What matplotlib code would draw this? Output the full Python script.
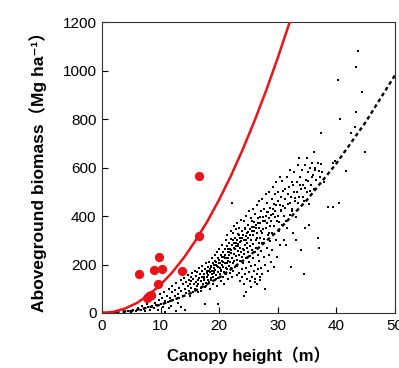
import matplotlib
matplotlib.use("Agg")
import matplotlib.pyplot as plt

# Red fitted curve
red_curve_x = [0, 2, 4, 6, 8, 10, 12, 14, 16, 18, 20, 22, 24, 26, 28, 30, 32]
red_curve_y = [0, 5, 19, 42, 75, 117, 168, 229, 300, 379, 468, 566, 674, 791, 917, 1053, 1198]

# Black dashed fitted curve
black_curve_x = [0, 5, 10, 15, 20, 25, 30, 35, 40, 45, 50]
black_curve_y = [0, 8, 34, 80, 146, 232, 339, 467, 617, 788, 981]

# Red points
red_x = [16.5, 16.5, 6.3, 9.8, 8.9, 10.2, 13.7, 9.5, 7.7, 8.3, 8.0]
red_y = [564, 319, 161, 232, 177, 180, 173, 118, 60, 74, 68]

# Black scatter points
black_pts = [
    (2.3,3),(3.7,5),(4.4,9),(4.9,4),(5.3,14),(5.8,7),(6.1,20),(6.6,12),(6.9,28),(7.2,16),(7.4,9),(7.7,35),
    (7.9,24),(8.1,48),(8.2,14),(8.5,30),(8.7,58),(8.8,20),(9.0,42),(9.1,66),(9.3,33),(9.5,12),(9.7,52),(9.9,80),
    (10.1,38),(10.2,60),(10.4,26),(10.6,88),(10.7,2),(10.8,50),
    (11.1,72),(11.3,45),(11.35,98),(11.6,60),(11.7,30),(11.9,85),(12.0,112),(12.2,52),(12.4,95),(12.45,70),
    (12.7,125),(12.9,80),(13.0,40),(13.1,105),(13.2,62),(13.5,135),(13.55,90),(13.8,118),(13.85,70),(14.0,145),
    (14.1,100),(14.2,12),(14.3,82),(14.4,128),(14.6,110),(14.7,155),(14.8,92),(14.9,135),(15.0,70),(15.05,120),
    (11.5,20),(12.6,8),(13.4,25),
    (15.12,150),(15.27,102),(15.21,132),(15.48,85),(15.43,165),(15.66,118),(15.58,140),(15.91,98),(15.84,175),(16.07,126),
    (15.96,152),(16.22,110),(16.31,88),(16.18,168),(16.45,138),(16.36,120),(16.62,185),(16.55,145),(16.83,104),(16.71,160),
    (16.94,130),(16.88,92),(17.09,175),(16.99,148),(17.23,118),(17.14,195),(17.41,135),(17.33,160),(17.52,108),(17.5,37),
    (17.61,180),(17.47,142),(17.78,125),(17.69,205),(17.87,165),(17.96,150),(17.83,112),(18.04,190),(18.13,138),
    (18.21,172),(18.09,155),(18.34,128),(18.27,210),(18.46,182),(18.52,145),(18.41,98),(18.63,195),(18.71,162),(18.58,135),
    (18.84,225),(18.77,175),(18.96,150),(19.03,200),(18.91,120),(19.16,185),(19.24,240),(19.11,165),(19.37,140),(19.42,210),
    (19.29,178),(19.55,250),(19.48,155),(19.67,192),(19.61,112),(19.74,225),(19.8,37),(19.86,170),(19.93,205),(19.79,145),
    (20.05,262),(20.12,185),(19.98,220),(20.19,160),(20.26,130),(20.33,240),(20.41,198),(20.37,175),(20.54,280),(20.47,215),
    (20.63,150),(20.69,190),(20.58,250),(20.82,230),(20.76,170),(20.94,205),(20.87,120),(21.02,265),(21.09,185),(20.97,225),
    (21.14,300),(21.21,160),(21.07,240),(21.28,205),(21.36,180),(21.31,275),(21.45,140),(21.52,225),(21.41,320),(21.58,250),
    (21.64,195),(21.71,290),(21.56,215),(21.79,165),(21.85,265),(21.73,240),(21.93,340),(21.98,185),(22.04,305),(22.11,225),
    (21.96,260),(22.17,150),(22.2,452),(22.26,280),(22.33,205),(22.38,330),(22.45,245),(22.41,175),(22.52,290),(22.61,360),
    (22.57,215),(22.66,265),(22.74,310),(22.69,190),(22.83,235),(22.79,345),(22.91,275),(22.96,155),(23.03,300),(22.99,220),
    (23.12,370),(23.17,255),(23.08,195),(23.26,325),(23.31,240),(23.22,285),(23.43,165),(23.38,350),(23.52,270),(23.47,215),
    (23.61,310),(23.56,130),(23.72,385),(23.66,250),(23.81,180),(23.77,295),(23.92,230),(23.86,340),(24.03,265),(23.97,150),
    (24.12,320),(24.07,205),(24.2,120),(24.26,380),(24.33,280),(24.29,245),(24.44,160),(24.38,350),(24.51,300),(24.57,225),
    (24.63,400),(24.68,270),(24.61,185),(24.76,330),(24.81,140),(24.73,290),(24.92,365),(24.87,250),(25.04,210),(24.98,310),
    (25.13,420),(25.09,170),(25.22,275),(25.18,345),(25.34,235),(25.28,130),(25.43,390),(25.39,300),(25.54,260),(25.48,195),
    (25.62,355),(25.66,150),(25.73,430),(25.69,285),(25.84,320),(25.79,225),(25.93,175),(25.88,375),(26.04,250),(25.99,340),
    (26.13,410),(26.08,140),(26.24,300),(26.19,200),(26.36,365),(26.31,270),(26.42,160),(26.47,445),(26.53,330),(26.58,240),
    (26.64,390),(26.61,180),(26.73,290),(26.77,350),(26.86,215),(26.82,460),(26.93,310),(26.97,150),
    (27.04,370),(27.09,255),(27.16,420),(27.12,185),(27.23,330),(27.34,290),(27.28,470),(27.43,395),(27.38,160),(27.52,345),
    (27.63,230),(27.58,430),(27.71,305),(27.8,100),(27.84,380),(27.89,200),(27.95,490),(28.02,350),(28.14,270),(28.08,415),
    (28.23,455),(28.31,320),(28.27,175),(28.42,390),(28.51,500),(28.47,240),(28.62,360),(28.73,435),(28.68,295),(28.81,210),
    (28.93,470),(28.87,380),(29.02,330),(29.13,520),(29.08,260),(29.24,410),(29.34,450),(29.29,190),(29.42,360),(29.53,490),
    (29.64,300),(29.58,420),(29.72,540),(29.83,380),(29.91,230),(29.96,460),
    (17.35,150),(17.92,172),(18.38,168),(18.67,188),(19.07,175),(19.52,198),(19.88,188),(20.22,205),(20.44,230),(20.72,212),
    (21.18,228),(21.47,262),(21.83,212),(22.08,248),(22.47,268),(22.88,290),(23.14,278),(23.57,292),(23.94,310),(24.22,300),
    (24.55,318),(24.96,335),(25.27,320),(25.58,340),(25.97,355),(26.27,350),(26.69,372),(27.07,340),(27.47,380),(27.92,400),
    (28.36,415),(28.78,405),(29.18,430),(29.62,445),(30.08,460),(19.35,215),(20.91,240),(22.28,300),(23.37,320),(24.47,345),
    (25.63,378),(26.88,395),(28.17,370),(29.48,395),(18.87,205),(21.62,250),(24.16,260),(26.38,310),(28.56,330),(20.28,178),
    (24.2,72),(24.6,88),(25.4,108),(26.1,128),(26.5,118),(27.0,135),
    (30.0,400),(30.1,500),(30.2,340),(30.3,445),(30.35,560),(30.4,280),(30.5,420),(30.6,480),(30.7,365),(30.8,545),
    (30.9,440),(31.0,300),(31.1,400),(31.2,510),(31.3,470),(31.5,560),(31.6,350),(31.7,450),(31.9,520),(32.0,405),
    (32.1,590),(32.2,480),(32.3,191),(32.4,540),(32.5,430),(32.7,500),(32.8,580),(33.0,460),(33.1,395),(33.3,540),
    (33.4,610),(33.6,641),(33.65,480),(33.8,560),(33.9,510),
    (30.25,375),(30.62,425),(30.95,505),(31.28,435),(31.44,380),(31.82,490),(32.06,455),(32.36,420),(32.64,530),(32.92,475),
    (33.22,500),(33.48,455),(33.74,530),(34.22,480),(34.68,515),(35.12,545),(35.44,505),(35.92,560),(36.32,590),(36.78,620),
    (31.36,280),(32.58,330),(33.12,300),(34.72,350),(35.38,365),
    (34.0,260),(34.1,590),(34.3,530),(34.4,161),(34.5,460),(34.6,610),(34.8,550),(34.9,500),(35.0,640),(35.2,580),
    (35.3,450),(35.5,600),(35.6,530),(35.8,620),(36.0,570),(36.1,665),(36.2,510),(36.4,600),(36.6,550),(36.9,311),
    (36.95,267),(37.0,585),(37.2,560),(37.4,744),(37.45,613),(37.6,580),(37.9,540),
    (38.5,436),(39.5,436),(39.5,617),(39.7,628),(40.2,961),(40.4,452),(40.6,801),(41.7,586),(42.5,744),(43.2,768),
    (43.4,830),(43.4,1013),(43.7,1080),(44.4,911),(44.8,665),
]
black_x = [p[0] for p in black_pts]
black_y = [p[1] for p in black_pts]

x_ticks = [0, 10, 20, 30, 40, 50]
y_ticks = [0, 200, 400, 600, 800, 1000, 1200]

fam = ['Liberation Sans', 'Noto Sans CJK JP', 'DejaVu Sans']

fig = plt.figure(figsize=(3.99, 3.68), dpi=100)
ax = fig.add_axes([0.2556, 0.1495, 0.7344, 0.7905])

ax.scatter(black_x, black_y, s=4, marker='s', color='black', linewidths=0, zorder=2)
ax.plot(black_curve_x, black_curve_y, color='black', lw=1.7, ls=(0, (1.6, 1.3)), zorder=3)
ax.plot(red_curve_x, red_curve_y, color='#e8141c', lw=1.8, zorder=4)
ax.scatter(red_x, red_y, s=45, color='#e8141c', linewidths=0, zorder=5)

ax.set_xlim(0, 50)
ax.set_ylim(0, 1200)
ax.set_xticks(x_ticks)
ax.set_yticks(y_ticks)
ax.tick_params(direction='in', length=4, width=0.8, labelsize=11, top=False, right=False, pad=4)
for lab in ax.get_xticklabels() + ax.get_yticklabels():
    lab.set_family(fam)
for sp in ax.spines.values():
    sp.set_linewidth(0.8)
    sp.set_color('#333333')

ax.set_xlabel('Canopy height（m）', family=fam, fontsize=12, fontweight='bold', labelpad=10)
ax.set_ylabel('Aboveground biomass（Mg ha⁻¹）', family=fam, fontsize=12.5, fontweight='bold', labelpad=11)

fig.savefig('out.png', dpi=100)
